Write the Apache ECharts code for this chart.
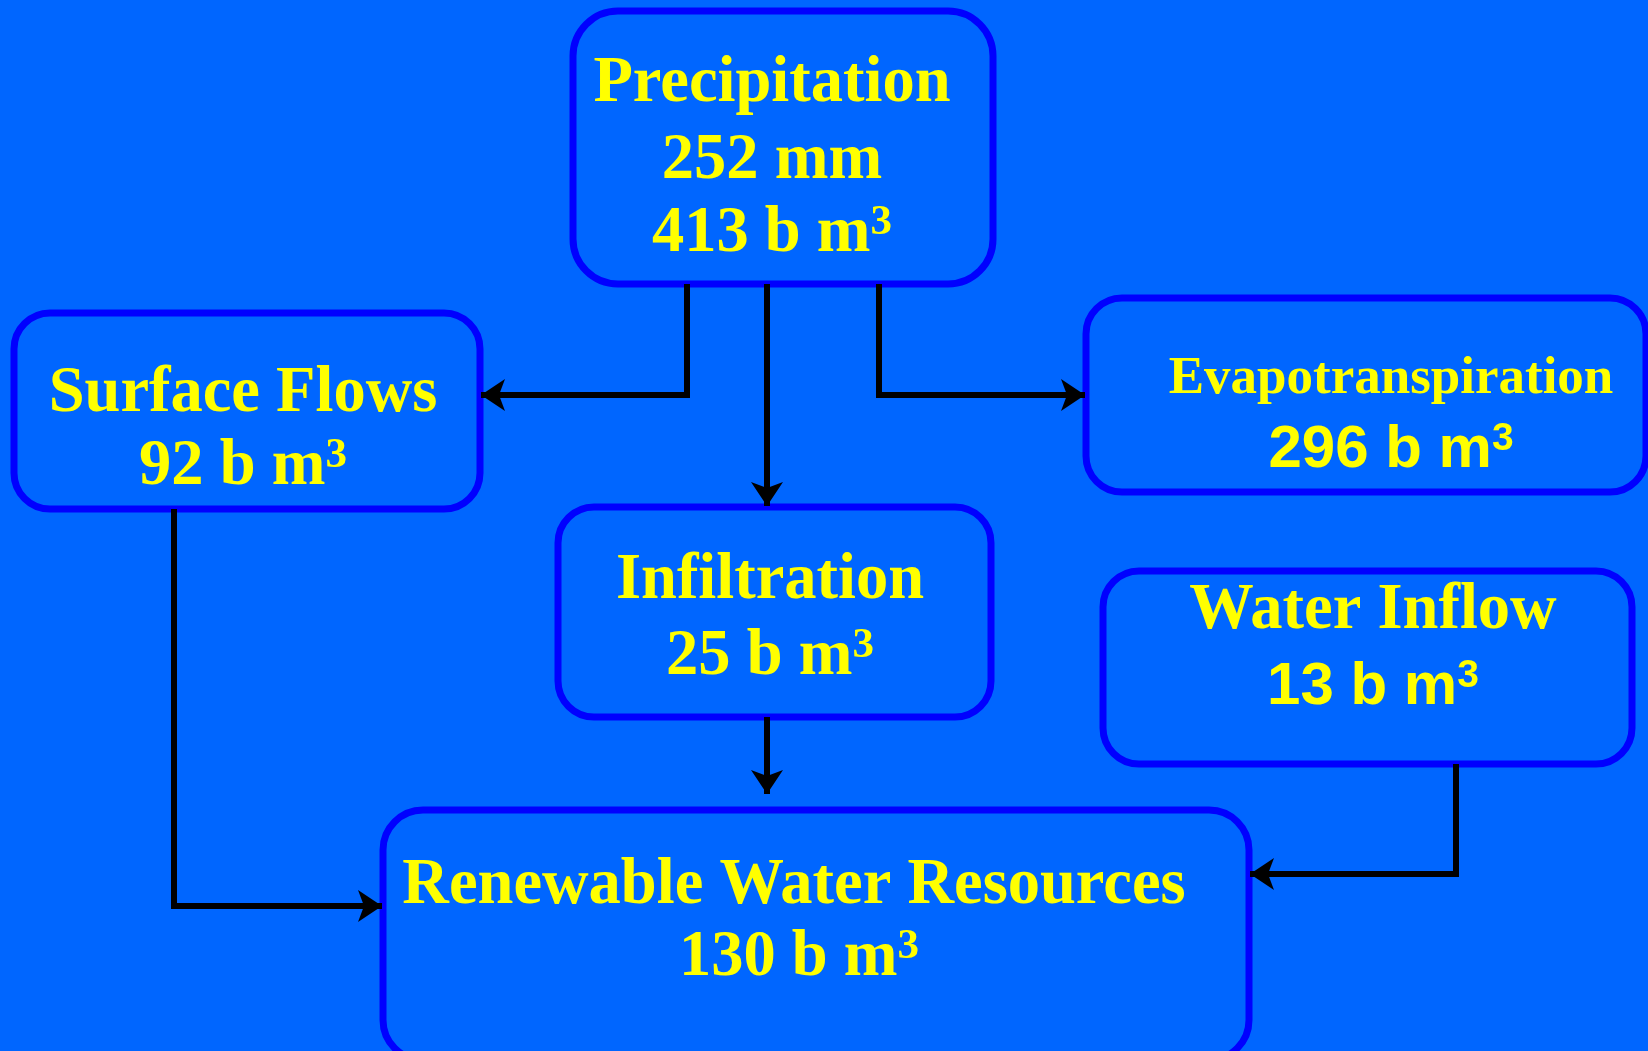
<!DOCTYPE html>
<html>
<head>
<meta charset="utf-8">
<script src="https://cdn.jsdelivr.net/npm/echarts@6/dist/echarts.min.js"></script>
<style>
  html, body { margin: 0; padding: 0; background: #0066FF; }
  #chart { width: 1648px; height: 1051px; }
</style>
</head>
<body>
<div id="chart"></div>
<script>
// data
const nodeNames = ["Precipitation", "Surface Flows", "Evapotranspiration", "Infiltration", "Water Inflow", "Renewable Water Resources"];
const nodeVolumes = [413, 92, 296, 25, 13, 130]; // b m3
const precipitationDepth = 252; // mm
const flows = [
  ["Precipitation", "Surface Flows"],
  ["Precipitation", "Infiltration"],
  ["Precipitation", "Evapotranspiration"],
  ["Infiltration", "Renewable Water Resources"],
  ["Surface Flows", "Renewable Water Resources"],
  ["Water Inflow", "Renewable Water Resources"]
];

// layout (page pixels)
const W = 1648, H = 1051;
const boxes = [
  [573, 11, 993, 284, 45],
  [14, 313, 480, 509, 36],
  [1086, 298, 1646, 492, 36],
  [558, 507, 991, 717, 36],
  [1103, 571, 1632, 764, 36],
  [383, 810, 1249, 1060, 40]
];
// text centre x, and y of each line
const textPos = [
  [772, [84, 161, 234]],
  [243, [394, 467]],
  [1391, [379, 450]],
  [770, [581, 657]],
  [1373, [611, 687]],
  [794, [886, 958]]
];
const serifBig = { font: 'bold 64.5px "Liberation Serif"', size: 64, sup: 'bold 43px "Liberation Serif"' };
const serifMid = { font: 'bold 53px "Liberation Serif"', size: 53, sup: 'bold 35px "Liberation Serif"' };
const sansBig = { font: 'bold 60px "Liberation Sans"', size: 60, sup: 'bold 39px "Liberation Sans"' };
const lineFonts = [
  [serifBig, serifBig, serifBig],
  [serifBig, serifBig],
  [serifMid, sansBig],
  [serifBig, serifBig],
  [serifBig, sansBig],
  [serifBig, serifBig]
];
const valueShift = [0, 0, 0, 0, 0, 5];
const flowPaths = [
  [[687, 284], [687, 395], [481, 395]],
  [[767, 284], [767, 506]],
  [[879, 284], [879, 395], [1085, 395]],
  [[767, 717], [767, 794]],
  [[174, 509], [174, 906], [382, 906]],
  [[1456, 764], [1456, 874], [1250, 874]]
];

function nodeLines(i) {
  const vol = nodeVolumes[i] + " b m{sup|3}";
  if (i === 0) return [nodeNames[0], precipitationDepth + " mm", vol];
  return [nodeNames[i], vol];
}

const chart = echarts.init(document.getElementById("chart"), null, { renderer: "canvas" });

const option = {
  backgroundColor: "#0066FF",
  animation: false,
  grid: { left: 0, right: 0, top: 0, bottom: 0 },
  xAxis: { type: "value", min: 0, max: W, show: false },
  yAxis: { type: "value", min: 0, max: H, inverse: true, show: false },
  series: [
    {
      type: "custom",
      coordinateSystem: "cartesian2d",
      silent: true,
      clip: false,
      z: 1,
      data: nodeNames.map((n, i) => [i, 0]),
      encode: { x: 0, y: 1 },
      renderItem(params, api) {
        const i = api.value(0);
        const b = boxes[i];
        const p0 = api.coord([b[0], b[1]]);
        const p1 = api.coord([b[2], b[3]]);
        const children = [{
          type: "rect",
          shape: { x: p0[0], y: p0[1], width: p1[0] - p0[0], height: p1[1] - p0[1], r: b[4] },
          style: { fill: "#0066FF", stroke: "#0000FF", lineWidth: 7 }
        }];
        const [cx, ys] = textPos[i];
        nodeLines(i).forEach((t, k) => {
          const f = lineFonts[i][k];
          const dx = k > 0 ? valueShift[i] : 0;
          const p = api.coord([cx + dx, ys[k]]);
          const supH = f.size - 22;
          children.push({
            type: "text",
            style: {
              text: t, x: p[0], y: p[1],
              fill: "#FFFF00", font: f.font, lineHeight: f.size,
              align: "center", verticalAlign: "middle",
              rich: {
                sup: { font: f.sup, fill: "#FFFF00", verticalAlign: "top", lineHeight: supH, height: supH }
              }
            }
          });
        });
        return { type: "group", children };
      }
    },
    {
      type: "lines",
      coordinateSystem: "cartesian2d",
      polyline: true,
      silent: true,
      z: 2,
      lineStyle: { color: "#000000", width: 6, opacity: 1 },
      data: flows.map((f, i) => ({ name: f.join(" -> "), coords: flowPaths[i] }))
    },
    {
      // arrow heads on the last leg of each flow
      type: "lines",
      coordinateSystem: "cartesian2d",
      silent: true,
      z: 3,
      symbol: ["none", "arrow"],
      symbolSize: 24,
      lineStyle: { color: "#000000", width: 6, opacity: 1 },
      data: flows.map((f, i) => {
        const c = flowPaths[i];
        return { name: f.join(" -> "), coords: [c[c.length - 2], c[c.length - 1]] };
      })
    }
  ]
};

chart.setOption(option);
</script>
</body>
</html>
